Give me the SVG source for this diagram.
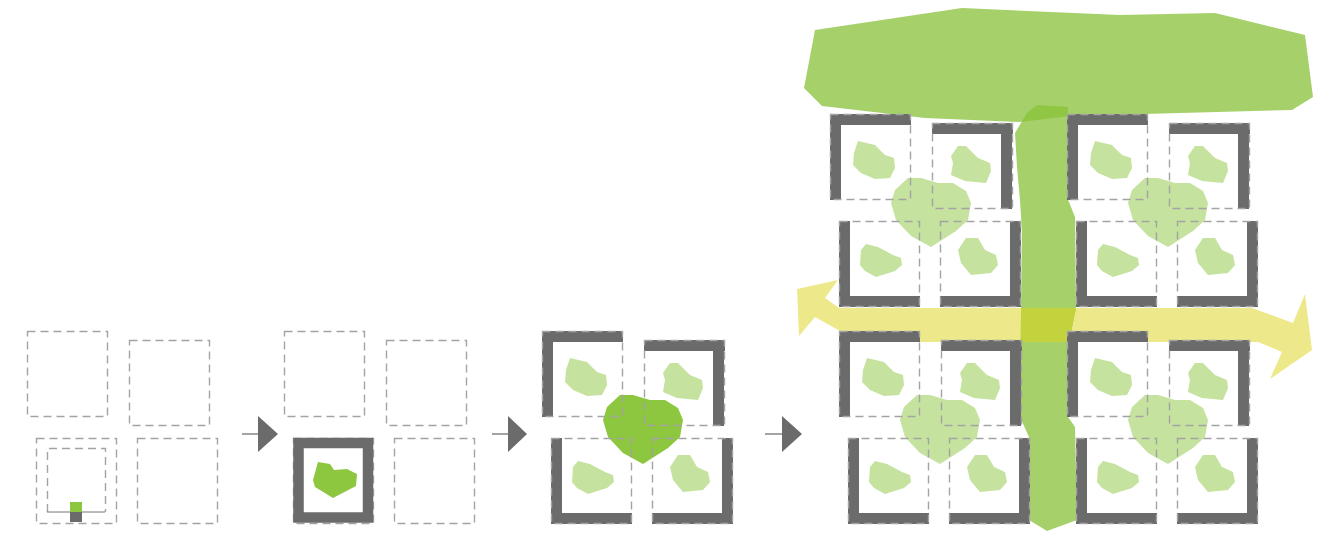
<svg xmlns="http://www.w3.org/2000/svg" xmlns:xlink="http://www.w3.org/1999/xlink" width="1332" height="534" viewBox="0 0 1332 534">
  <style>
    .dash { fill: none; stroke: #a3a3a3; stroke-width: 1.4; stroke-dasharray: 8 5; }
    .wall { fill: #6b6b6b; }
    .leaf { fill: #c5e29f; }
    .core-dark { fill: #8dc63f; }
    .core-light { fill: #c5e29f; }
    .canopy { fill: #a6d06a; }
    .river { fill: #a6d06a; }
    .river-under-canopy { fill: #8fc644; }
    .path { fill: #ede98a; }
    .river-on-path { fill: #c3d33e; }
    .link { stroke: #666666; stroke-width: 1.2; fill: none; }
    .head { fill: #6b6b6b; }
  </style>
  <defs>
    <!-- four plots of one block, in local coordinates -->
    <g id="frames">
      <rect class="dash" x="0.5" y="0.5" width="80" height="85"/>
      <rect class="dash" x="102.5" y="9.5" width="80" height="85"/>
      <rect class="dash" x="9.5" y="107.5" width="80" height="85"/>
      <rect class="dash" x="110.5" y="107.5" width="80" height="85"/>
    </g>
    <g id="walls">
      <rect class="wall" x="0" y="0" width="81" height="11"/>
      <rect class="wall" x="0" y="0" width="11" height="86"/>
      <rect class="wall" x="102" y="9" width="81" height="11"/>
      <rect class="wall" x="171" y="9" width="11" height="86"/>
      <rect class="wall" x="9" y="107" width="11" height="86"/>
      <rect class="wall" x="9" y="182" width="81" height="11"/>
      <rect class="wall" x="180" y="107" width="11" height="86"/>
      <rect class="wall" x="110" y="182" width="81" height="11"/>
    </g>
    <g id="leaves">
      <path class="leaf" d="M28,27 L45,31 55,41 64,44 65,54 60,64 45,65 31,59 23,51 24,39Z"/>
      <path class="leaf" d="M128,32 L136,32 148,44 160,49 161,57 156,69 135,67 121,61 123,49 121,42Z"/>
      <path class="leaf" d="M36,130 L48,133 63,141 71,144 72,151 65,157 46,163 35,157 30,151 31,136Z"/>
      <path class="leaf" d="M136,124 L148,124 155,136 166,141 168,151 161,159 141,161 131,149 128,136Z"/>
    </g>
    <path id="core" d="M78,64 L91,64 108,69 123,69 136,77 141,89 138,106 126,117 101,133 81,122 66,106 61,89 65,76Z"/>

    <polygon id="canopy-shape" points="815,30 962,8 1120,15 1215,13 1305,35 1313,97 1292,110 1070,116 1020,122 925,118 822,106 804,88"/>
    <polygon id="path-shape" points="797,289 838,280 825,298 839,308 1252,308 1293,323 1305,294 1312,350 1270,379 1282,352 1258,342 920,342 840,331 815,317 799,336"/>
    <polygon id="river-shape" points="1037,105 1068,107 1067,197 1075,217 1076,308 1069,342 1068,417 1075,427 1077,520 1047,531 1029,520 1029,437 1020,417 1021,310 1022,233 1020,200 1017,167 1015,133 1027,113"/>

    <clipPath id="clip-canopy"><use xlink:href="#canopy-shape"/></clipPath>
    <clipPath id="clip-path"><use xlink:href="#path-shape"/></clipPath>
  </defs>

  <!-- stage 1: empty plots with a seed -->
  <g id="stage1" transform="translate(27,331)">
    <use xlink:href="#frames"/>
    <g id="seed">
      <path class="dash" d="M20.5,181 V117.5 H78.5 V181"/>
      <line x1="20" y1="181" x2="78" y2="181" stroke="#777777" stroke-width="1"/>
      <rect x="43" y="171" width="12" height="10" fill="#8dc63f"/>
      <rect x="43" y="181" width="12" height="10" fill="#6b6b6b"/>
    </g>
  </g>

  <!-- stage 2: one enclosed plot with a garden -->
  <g id="stage2">
    <g transform="translate(284,331)">
      <use xlink:href="#frames"/>
    </g>
    <g id="stage2-court">
      <rect x="298.5" y="443" width="69.5" height="74.5" fill="#ffffff" stroke="#6b6b6b" stroke-width="10.5"/>
      <path class="core-dark" d="M318,462 L330,464 334,470 347,469 357,474 356,486 333,498 315,487 313,480Z"/>
    </g>
  </g>

  <!-- stage 3: a block of four plots around a shared garden -->
  <g id="stage3" transform="translate(542,331)">
    <use xlink:href="#leaves"/>
    <use xlink:href="#core" class="core-dark"/>
    <use xlink:href="#walls"/>
    <use xlink:href="#frames"/>
  </g>

  <!-- stage 4: four blocks, canopy, green corridor and path -->
  <g id="stage4">
    <g id="path">
      <use xlink:href="#path-shape" class="path"/>
    </g>
    <g id="canopy">
      <use xlink:href="#canopy-shape" class="canopy"/>
    </g>
    <g id="river">
      <use xlink:href="#river-shape" class="river"/>
      <use xlink:href="#river-shape" class="river-under-canopy" clip-path="url(#clip-canopy)"/>
      <use xlink:href="#river-shape" class="river-on-path" clip-path="url(#clip-path)"/>
    </g>
    <g id="block-nw" transform="translate(830,114)">
      <use xlink:href="#leaves"/>
      <use xlink:href="#core" class="core-light"/>
      <use xlink:href="#walls"/>
      <use xlink:href="#frames"/>
    </g>
    <g id="block-ne" transform="translate(1067,114)">
      <use xlink:href="#leaves"/>
      <use xlink:href="#core" class="core-light"/>
      <use xlink:href="#walls"/>
      <use xlink:href="#frames"/>
    </g>
    <g id="block-sw" transform="translate(839,331)">
      <use xlink:href="#leaves"/>
      <use xlink:href="#core" class="core-light"/>
      <use xlink:href="#walls"/>
      <use xlink:href="#frames"/>
    </g>
    <g id="block-se" transform="translate(1067,331)">
      <use xlink:href="#leaves"/>
      <use xlink:href="#core" class="core-light"/>
      <use xlink:href="#walls"/>
      <use xlink:href="#frames"/>
    </g>
  </g>

  <!-- step arrows -->
  <g id="connectors">
    <line class="link" x1="242" y1="434" x2="259" y2="434"/>
    <polygon class="head" points="258,416 278,434 258,452"/>
    <line class="link" x1="492" y1="434" x2="509" y2="434"/>
    <polygon class="head" points="508,416 527,434 508,452"/>
    <line class="link" x1="765" y1="434" x2="783" y2="434"/>
    <polygon class="head" points="782,416 802,434 782,452"/>
  </g>
</svg>
